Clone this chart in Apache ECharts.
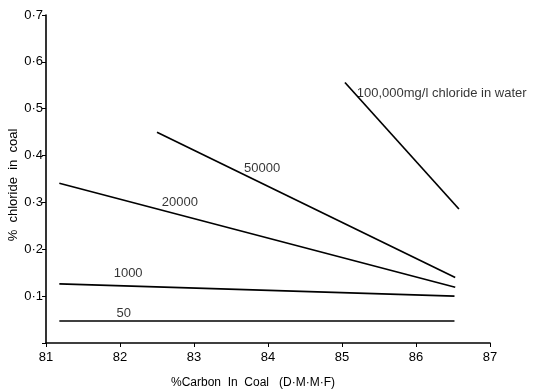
<!DOCTYPE html>
<html><head><meta charset="utf-8">
<script src="https://cdn.jsdelivr.net/npm/echarts@6/dist/echarts.min.js"></script>
<style>html,body{margin:0;padding:0;background:#fff}#c{width:536px;height:390px}</style>
</head><body><div id="c"></div>
<script>
const seriesNames = ['50', '1000', '20000', '50000', '100,000mg/l chloride in water'];
const line50 = [[81.18, 0.047], [86.52, 0.047]];
const line1000 = [[81.18, 0.126], [86.52, 0.100]];
const line20000 = [[81.18, 0.341], [86.53, 0.119]];
const line50000 = [[82.50, 0.450], [86.53, 0.140]];
const line100000 = [[85.04, 0.556], [86.58, 0.286]];
const labelAnchors = [[82.05, 0.064], [82.11, 0.149], [82.81, 0.300], [83.92, 0.373], [85.20, 0.533]];
const xTicks = ['81', '82', '83', '84', '85', '86', '87'];
const yTicks = ['', '0·1', '0·2', '0·3', '0·4', '0·5', '0·6', '0·7'];

const lines = [line50, line1000, line20000, line50000, line100000];
const font = 'Liberation Sans, Arial, sans-serif';
const chart = echarts.init(document.getElementById('c'), null, {renderer: 'canvas'});
const series = lines.map((d, i) => ({
  type: 'line', name: seriesNames[i], data: d, symbol: 'none',
  lineStyle: {color: '#000', width: 1.7}, silent: true, animation: false
}));
series.push({
  type: 'scatter', symbolSize: 0, silent: true, animation: false,
  data: labelAnchors.map((p, i) => ({value: p, name: seriesNames[i],
    label: {show: true, position: i === 4 ? 'right' : 'inside',
      formatter: seriesNames[i], color: '#000', fontSize: 13, fontFamily: font,
      distance: 0}})),
  itemStyle: {color: 'transparent'}
});
chart.setOption({
  animation: false,
  grid: {left: 46, right: 46, top: 15, bottom: 47, outerBoundsMode: 'none', containLabel: false},
  xAxis: {
    type: 'value', min: 81, max: 87, interval: 1,
    name: '%Carbon  In  Coal   (D·M·M·F)', nameLocation: 'middle', nameGap: 34,
    nameTextStyle: {color: '#000', fontSize: 12, fontFamily: font, padding: [0, 30, 0, 0]},
    axisLine: {lineStyle: {color: '#000', width: 1.6}},
    axisTick: {show: true, length: 4, lineStyle: {color: '#000'}},
    axisLabel: {color: '#000', fontSize: 13, fontFamily: font, margin: 8,
      formatter: v => xTicks[Math.round(v - 81)]},
    splitLine: {show: false}
  },
  yAxis: {
    type: 'value', min: 0, max: 0.7, interval: 0.1,
    name: '%  chloride  in  coal', nameLocation: 'middle', nameGap: 26, nameMoveOverlap: false,
    nameTextStyle: {color: '#000', fontSize: 13, fontFamily: font, padding: [0, 12, 0, 0]},
    axisLine: {show: true, lineStyle: {color: '#000', width: 1.6}},
    axisTick: {show: true, length: 4, lineStyle: {color: '#000'}},
    axisLabel: {color: '#000', fontSize: 13, fontFamily: font, margin: 3,
      formatter: v => yTicks[Math.round(v * 10)]},
    splitLine: {show: false}
  },
  series: series
});
</script></body></html>
